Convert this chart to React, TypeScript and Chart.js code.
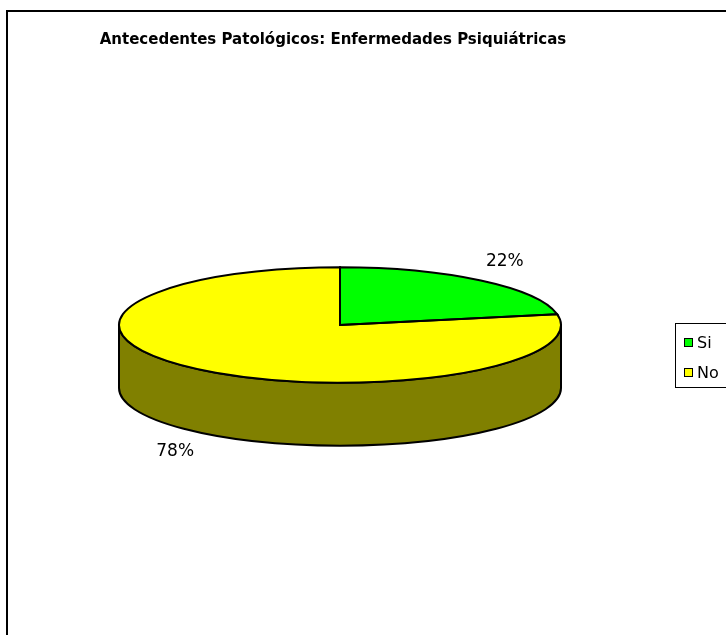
import React, { useEffect, useRef } from "react";
import { Chart, registerables } from "chart.js";

Chart.register(...registerables);

const TITLE = "Antecedentes Patológicos: Enfermedades Psiquiátricas";
const CATEGORIES = ["Si", "No"];
const VALUES = [22, 78];
const COLORS = ["#00FF00", "#FFFF00"];
const SIDE_COLORS = ["#008000", "#808000"];

const TILT = 0.261; // vertical squash of the pie top
const DEPTH_RATIO = 0.285; // thickness relative to radius

const pie3d = {
  id: "pie3d",
  beforeDatasetsDraw(chart: any) {
    const ctx = chart.ctx;
    const meta = chart.getDatasetMeta(0);
    const arcs = meta.data;
    if (!arcs.length) return;
    const cx = arcs[0].x;
    const cy = arcs[0].y;
    const rx = arcs[0].outerRadius;
    const ry = rx * TILT;
    const d = rx * DEPTH_RATIO;
    ctx.save();
    ctx.lineWidth = 2;
    ctx.strokeStyle = "#000";
    arcs.forEach((a: any, i: number) => {
      for (let k = -1; k <= 1; k++) {
        const s = a.startAngle + k * 2 * Math.PI;
        const e = a.endAngle + k * 2 * Math.PI;
        const lo = Math.max(s, 0);
        const hi = Math.min(e, Math.PI);
        if (hi > lo) {
          ctx.beginPath();
          ctx.ellipse(cx, cy, rx, ry, 0, lo, hi, false);
          ctx.ellipse(cx, cy + d, rx, ry, 0, hi, lo, true);
          ctx.closePath();
          ctx.fillStyle = SIDE_COLORS[i];
          ctx.fill();
          ctx.stroke();
        }
      }
    });
    ctx.restore();
    ctx.save();
    ctx.translate(cx, cy);
    ctx.scale(1, TILT);
    ctx.translate(-cx, -cy);
  },
  afterDatasetsDraw(chart: any) {
    const ctx = chart.ctx;
    const meta = chart.getDatasetMeta(0);
    const arcs = meta.data;
    if (!arcs.length) return;
    ctx.restore();
    const cx = arcs[0].x;
    const cy = arcs[0].y;
    const rx = arcs[0].outerRadius;
    const ry = rx * TILT;
    const d = rx * DEPTH_RATIO;
    ctx.save();
    ctx.lineWidth = 2;
    ctx.strokeStyle = "#000";
    arcs.forEach((a: any) => {
      ctx.beginPath();
      ctx.moveTo(cx, cy);
      ctx.ellipse(cx, cy, rx, ry, 0, a.startAngle, a.endAngle, false);
      ctx.closePath();
      ctx.stroke();
    });
    const values = chart.data.datasets[0].data as number[];
    const total = values.reduce((p, v) => p + v, 0);
    ctx.fillStyle = "#000";
    ctx.font = "17px 'DejaVu Sans'";
    ctx.textAlign = "center";
    ctx.textBaseline = "middle";
    arcs.forEach((a: any, i: number) => {
      const mid = (a.startAngle + a.endAngle) / 2;
      const sn = Math.sin(mid);
      const lx = cx + 1.17 * rx * Math.cos(mid);
      const ly = cy + 1.42 * ry * sn + (sn > 0 ? d : 0);
      ctx.fillText(Math.round((values[i] / total) * 100) + "%", lx, ly);
    });
    ctx.restore();
  },
  afterDraw(chart: any) {
    const ctx = chart.ctx;
    ctx.save();
    // outer frame
    ctx.lineWidth = 2;
    ctx.strokeStyle = "#000";
    ctx.strokeRect(7, 11, 900, 900);
    // title
    ctx.fillStyle = "#000";
    ctx.font = "bold 15px 'DejaVu Sans'";
    ctx.textAlign = "center";
    ctx.textBaseline = "alphabetic";
    ctx.fillText(TITLE, 333, 44);
    // legend
    ctx.lineWidth = 1;
    ctx.strokeRect(675.5, 323.5, 120, 64);
    ctx.font = "16px 'DejaVu Sans'";
    ctx.textAlign = "left";
    const labels = chart.data.labels as string[];
    const colors = chart.data.datasets[0].backgroundColor as string[];
    labels.forEach((lab, i) => {
      const y = 342 + i * 30;
      ctx.fillStyle = colors[i];
      ctx.fillRect(684, y - 4, 9, 9);
      ctx.strokeStyle = "#000";
      ctx.strokeRect(684.5, y - 3.5, 8, 8);
      ctx.fillStyle = "#000";
      ctx.fillText(lab, 697, y + 6);
    });
    ctx.restore();
  },
};

export default function App() {
  const ref = useRef<HTMLCanvasElement>(null);
  useEffect(() => {
    document.body.style.margin = "0";
    const chart = new Chart(ref.current!, {
      type: "pie",
      data: {
        labels: CATEGORIES,
        datasets: [
          {
            data: VALUES,
            backgroundColor: COLORS,
            borderWidth: 0,
            hoverOffset: 0,
            offset: 0,
            clip: false,
          } as any,
        ],
      },
      options: {
        animation: false,
        responsive: false,
        devicePixelRatio: 1,
        layout: { padding: { left: 119, right: 165, top: 104, bottom: 89 } },
        plugins: {
          legend: { display: false },
          tooltip: { enabled: false },
          title: { display: false },
        },
        events: [],
      },
      plugins: [pie3d],
    });
    return () => chart.destroy();
  }, []);
  return (
    <div style={{ position: "absolute", left: 0, top: 0, width: 726, height: 635, background: "#fff" }}>
      <canvas ref={ref} width={726} height={635} style={{ display: "block" }} />
    </div>
  );
}
